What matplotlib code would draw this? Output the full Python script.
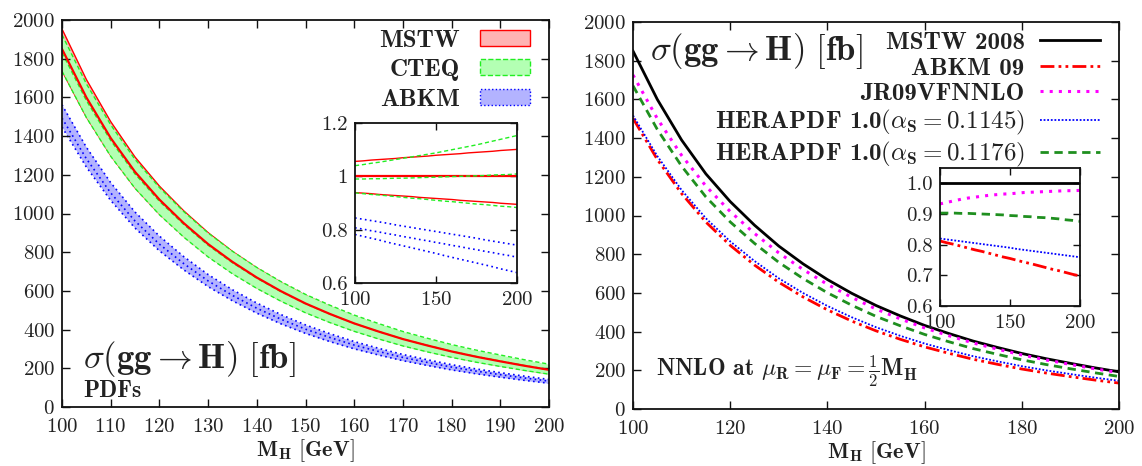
import matplotlib
matplotlib.use('Agg')
import matplotlib.pyplot as plt
from matplotlib.patches import Patch
from matplotlib.lines import Line2D
import numpy as np

plt.rcParams['font.family'] = 'serif'
plt.rcParams['font.serif'] = ['cmr10']
plt.rcParams['mathtext.fontset'] = 'cm'
plt.rcParams['axes.formatter.use_mathtext'] = True
plt.rcParams['axes.unicode_minus'] = False

# Higgs mass grid [GeV]
mh = [100, 105, 110, 115, 120, 125, 130, 135, 140, 145, 150,
      155, 160, 165, 170, 175, 180, 185, 190, 195, 200]
# MSTW 2008 NNLO central cross section [fb]
sigma_mstw = [1850, 1600, 1390, 1215, 1072, 950, 842, 750, 669, 598, 535,
              481, 432, 390, 351, 318, 287, 260, 236, 213, 192]

# ratios to MSTW central (left panel, PDF uncertainty bands)
mstw_hi = [1.056, 1.058, 1.061, 1.063, 1.065, 1.067, 1.070, 1.072, 1.074, 1.076, 1.079,
           1.081, 1.083, 1.085, 1.088, 1.090, 1.092, 1.094, 1.097, 1.099, 1.101]
mstw_lo = [0.939, 0.937, 0.935, 0.932, 0.930, 0.928, 0.926, 0.924, 0.921, 0.919, 0.917,
           0.915, 0.913, 0.910, 0.908, 0.906, 0.904, 0.902, 0.899, 0.897, 0.895]
cteq_hi = [1.040, 1.044, 1.049, 1.053, 1.058, 1.063, 1.068, 1.073, 1.078, 1.083, 1.088,
           1.094, 1.100, 1.106, 1.112, 1.118, 1.125, 1.132, 1.139, 1.146, 1.153]
cteq_c = [0.990, 0.990, 0.991, 0.991, 0.992, 0.993, 0.993, 0.994, 0.995, 0.996, 0.997,
          0.998, 0.999, 1.000, 1.001, 1.002, 1.003, 1.005, 1.006, 1.007, 1.009]
cteq_lo = [0.938, 0.935, 0.932, 0.930, 0.927, 0.924, 0.921, 0.918, 0.916, 0.913, 0.910,
           0.907, 0.905, 0.902, 0.899, 0.896, 0.894, 0.891, 0.888, 0.886, 0.883]
abkm_hi = [0.844, 0.839, 0.834, 0.829, 0.824, 0.818, 0.813, 0.808, 0.803, 0.798, 0.793,
           0.788, 0.783, 0.778, 0.773, 0.768, 0.762, 0.757, 0.752, 0.747, 0.742]
abkm_c = [0.807, 0.802, 0.796, 0.791, 0.785, 0.780, 0.774, 0.769, 0.763, 0.758, 0.752,
          0.747, 0.741, 0.736, 0.730, 0.725, 0.719, 0.714, 0.708, 0.703, 0.697]
abkm_lo = [0.782, 0.775, 0.768, 0.761, 0.753, 0.746, 0.739, 0.732, 0.725, 0.718, 0.711,
           0.703, 0.696, 0.689, 0.682, 0.675, 0.668, 0.661, 0.653, 0.646, 0.639]

# ratios to MSTW 2008 (right panel, central predictions)
r_abkm09 = [0.812, 0.806, 0.801, 0.795, 0.789, 0.783, 0.778, 0.772, 0.766, 0.760, 0.755,
            0.749, 0.743, 0.738, 0.732, 0.726, 0.720, 0.715, 0.709, 0.703, 0.698]
r_jr09 = [0.933, 0.938, 0.943, 0.948, 0.952, 0.955, 0.958, 0.961, 0.963, 0.965, 0.966,
          0.968, 0.970, 0.971, 0.972, 0.973, 0.974, 0.975, 0.976, 0.976, 0.977]
r_hera1145 = [0.820, 0.817, 0.814, 0.811, 0.808, 0.805, 0.802, 0.799, 0.796, 0.793, 0.790,
              0.786, 0.783, 0.780, 0.777, 0.774, 0.771, 0.768, 0.765, 0.762, 0.759]
r_hera1176 = [0.903, 0.903, 0.903, 0.902, 0.902, 0.901, 0.900, 0.899, 0.898, 0.897, 0.895,
              0.894, 0.892, 0.891, 0.889, 0.888, 0.886, 0.884, 0.881, 0.879, 0.876]

x = np.array(mh)
c = np.array(sigma_mstw)
one = np.ones_like(c, dtype=float)

RED, GREEN, BLUE = '#ff0000', '#22ee22', '#0000ff'
TXT = '#222222'
title = r'$\sigma(\mathbf{gg} \rightarrow \mathbf{H})\ [\mathbf{fb}]$'
xlab = r'$\mathbf{M_H}\ [\mathbf{GeV}]$'

fig = plt.figure(figsize=(11.42, 4.66), dpi=100)


def style(ax, fs=15, ln=6, xpad=8):
    ax.tick_params(direction='in', top=True, right=True, length=ln, width=1,
                   labelsize=fs, colors='#111111', labelcolor=TXT, pad=5)
    ax.tick_params(axis='x', pad=xpad)
    for s in ax.spines.values():
        s.set_linewidth(1.3)
        s.set_color('#111111')


# ---------------- left panel ----------------
# drawn in layers like gnuplot: MSTW band, CTEQ band, ABKM band, then MSTW central
ax1 = fig.add_axes([62 / 1142, 1 - 407 / 466, 487 / 1142, 387 / 466])
ax1.fill_between(x, c * np.array(mstw_lo), c * np.array(mstw_hi), color='#ffb3b3',
                 lw=0, zorder=1.0)
for r in (mstw_hi, mstw_lo):
    ax1.plot(x, c * np.array(r), color=RED, lw=1, zorder=1.1)
ax1.fill_between(x, c * np.array(cteq_lo), c * np.array(cteq_hi), color='#b3ffb3',
                 lw=0, zorder=1.2)
for r in (cteq_hi, cteq_c, cteq_lo):
    ax1.plot(x, c * np.array(r), color=GREEN, lw=1, dashes=(3, 2), zorder=1.3)
ax1.fill_between(x, c * np.array(abkm_lo), c * np.array(abkm_hi), color='#b3b3ff',
                 lw=0, zorder=1.4)
for r in (abkm_hi, abkm_c, abkm_lo):
    ax1.plot(x, c * np.array(r), color=BLUE, lw=1.2, dashes=(1, 2), zorder=1.5)
ax1.plot(x, c, color=RED, lw=1.6, zorder=2)
ax1.set_xlim(100, 200)
ax1.set_ylim(0, 2000)
ax1.set_xticks(range(100, 201, 10))
ax1.set_yticks(range(0, 2001, 200))
style(ax1)
ax1.set_xlabel(xlab, fontsize=16, color=TXT, labelpad=1)
ax1.text(0.043, 0.1, title, transform=ax1.transAxes, fontsize=25, color=TXT)
ax1.text(0.043, 0.027, 'PDFs', transform=ax1.transAxes, fontsize=17,
         family='cmb10', color=TXT)
h1 = [Patch(facecolor='#ffb3b3', edgecolor=RED, lw=1),
      Patch(facecolor='#b3ffb3', edgecolor=GREEN, lw=1, ls='--'),
      Patch(facecolor='#b3b3ff', edgecolor=BLUE, lw=1, ls=':')]
leg1 = ax1.legend(h1, ['MSTW', 'CTEQ', 'ABKM'], loc='upper right',
                  bbox_to_anchor=(0.96, 0.975), frameon=False, markerfirst=False,
                  handlelength=2.0, handleheight=0.6, labelspacing=0.3,
                  handletextpad=0.8, borderaxespad=0, borderpad=0,
                  prop={'family': 'cmb10', 'size': 18})
for t in leg1.get_texts():
    t.set_color(TXT)

in1 = fig.add_axes([355 / 1142, 1 - 283 / 466, 162 / 1142, 160 / 466])
in1.plot(x, mstw_hi, color=RED, lw=1)
in1.plot(x, mstw_lo, color=RED, lw=1)
in1.plot(x, one, color=RED, lw=1.6)
for r in (cteq_hi, cteq_c, cteq_lo):
    in1.plot(x, r, color=GREEN, lw=1, dashes=(3, 2))
for r in (abkm_hi, abkm_c, abkm_lo):
    in1.plot(x, r, color=BLUE, lw=1.2, dashes=(1, 2))
in1.set_xlim(100, 200)
in1.set_ylim(0.6, 1.2)
in1.set_xticks([100, 150, 200])
in1.set_yticks([0.6, 0.8, 1.0, 1.2], ['0.6', '0.8', '1', '1.2'])
style(in1, ln=5, xpad=6)

# ---------------- right panel ----------------
ax2 = fig.add_axes([633 / 1142, 1 - 409 / 466, 486 / 1142, 387 / 466])
series = [
    (one, 'MSTW 2008', dict(color='black', lw=2)),
    (r_abkm09, 'ABKM 09', dict(color=RED, lw=2, dashes=(5, 1.5, 1, 1.5, 1, 1.5))),
    (r_jr09, 'JR09VFNNLO', dict(color='#ff00ff', lw=2.2, dashes=(1, 2))),
    (r_hera1145, r'HERAPDF 1.0$(\alpha_\mathbf{S} = \mathbf{0.1145})$',
     dict(color=BLUE, lw=1.3, dashes=(1, 1))),
    (r_hera1176, r'HERAPDF 1.0$(\alpha_\mathbf{S} = \mathbf{0.1176})$',
     dict(color='#1f8f1f', lw=2, dashes=(3, 2))),
]
handles = []
for r, lab, kw in series:
    ax2.plot(x, c * np.array(r), **kw)
    handles.append(Line2D([], [], **kw))
ax2.set_xlim(100, 200)
ax2.set_ylim(0, 2000)
ax2.set_xticks(range(100, 201, 20))
ax2.set_yticks(range(0, 2001, 200))
style(ax2)
ax2.set_xlabel(xlab, fontsize=16, color=TXT, labelpad=1)
ax2.text(0.035, 0.903, title, transform=ax2.transAxes, fontsize=25, color=TXT)
ax2.text(0.047, 0.084,
         r'NNLO at $\mu_\mathbf{R} = \mu_\mathbf{F} = '
         r'\frac{\mathbf{1}}{\mathbf{2}}\mathbf{M_H}$',
         transform=ax2.transAxes, fontsize=17, family='cmb10', color=TXT)
leg2 = ax2.legend(handles, [s[1] for s in series], loc='upper right',
                  bbox_to_anchor=(0.96, 0.975), frameon=False, markerfirst=False,
                  handlelength=2.4, labelspacing=0.12, handletextpad=0.6,
                  borderaxespad=0, borderpad=0,
                  prop={'family': 'cmb10', 'size': 18})
for t in leg2.get_texts():
    t.set_color(TXT)

in2 = fig.add_axes([940 / 1142, 1 - 306 / 466, 140 / 1142, 138 / 466])
for r, lab, kw in series:
    in2.plot(x, r, **kw)
in2.set_xlim(100, 200)
in2.set_ylim(0.6, 1.05)
in2.set_xticks([100, 150, 200])
in2.set_yticks([0.6, 0.7, 0.8, 0.9, 1.0], ['0.6', '0.7', '0.8', '0.9', '1.0'])
style(in2, ln=5, xpad=6)

fig.savefig('out.png', dpi=100)
